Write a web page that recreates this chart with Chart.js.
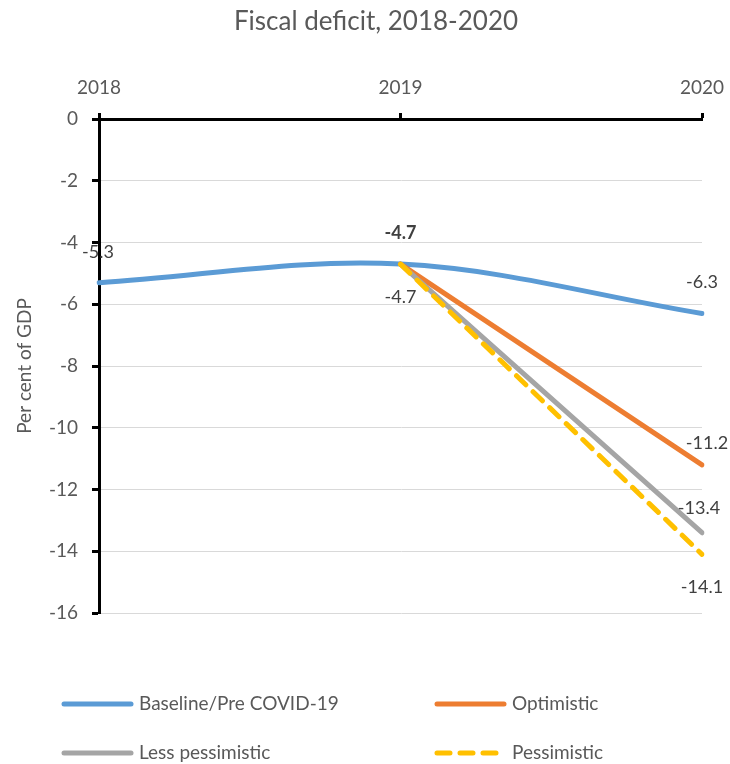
<!DOCTYPE html>
<html>
<head>
<meta charset="utf-8">
<script src="https://cdn.jsdelivr.net/npm/chart.js@4.4.1/dist/chart.umd.min.js"></script>
<style>
  html, body { margin: 0; padding: 0; background: #fff; }
  #wrap { width: 730px; height: 764px; position: relative; }
</style>
</head>
<body>
<div id="wrap"><canvas id="chart"></canvas></div>
<script>
const years = ['2018', '2019', '2020'];
const baseline = [-5.3, -4.7, -6.3];
const optimistic = [null, -4.7, -11.2];
const lessPessimistic = [null, -4.7, -13.4];
const pessimistic = [null, -4.7, -14.1];
const yTicks = [0, -2, -4, -6, -8, -10, -12, -14, -16];
const chartTitle = 'Fiscal deficit, 2018-2020';

const FONT = 'Lato, "Open Sans", sans-serif';
const TEXT = '#595959';

// value labels: [dataset, point, dx, dy, bold]
const valueLabels = [
    [0, 0, -1, -30, false],
    [0, 1, 0, -31, true],
    [0, 2, 0, -31, false],
    [2, 1, 0, 33, false],
    [1, 2, 5, -22, false],
    [2, 2, -3, -25, false],
    [3, 2, 0, 33, false]
];

const labelPlugin = {
    id: 'valueLabels',
    afterDatasetsDraw(chart) {
        const ctx = chart.ctx;
        ctx.save();
        ctx.textAlign = 'center';
        ctx.textBaseline = 'middle';
        valueLabels.forEach(([ds, i, dx, dy, bold]) => {
            const pt = chart.getDatasetMeta(ds).data[i];
            const v = chart.data.datasets[ds].data[i];
            ctx.font = (bold ? 'bold ' : '') + '18px ' + FONT;
            ctx.fillStyle = '#404040';
            ctx.fillText(v.toFixed(1), pt.x + dx, pt.y + dy);
        });
        ctx.restore();
    }
};

// title sits a little right of the canvas centre
const titlePlugin = {
    id: 'topTitle',
    afterDraw(chart) {
        const ctx = chart.ctx;
        ctx.save();
        ctx.font = '26px ' + FONT;
        ctx.fillStyle = TEXT;
        ctx.textAlign = 'center';
        ctx.textBaseline = 'middle';
        ctx.fillText(chartTitle, 376, 22);
        ctx.restore();
    }
};

// two-column legend under the plot
const legendPlugin = {
    id: 'gridLegend',
    afterDraw(chart) {
        const ctx = chart.ctx;
        const spots = [[61, 704], [434, 704], [61, 753], [434, 753]];
        ctx.save();
        chart.data.datasets.forEach((ds, k) => {
            const [x, y] = spots[k];
            ctx.beginPath();
            ctx.strokeStyle = ds.borderColor;
            ctx.lineWidth = 5;
            ctx.lineCap = 'round';
            ctx.setLineDash(ds.borderDash || []);
            ctx.moveTo(x + 3, y);
            ctx.lineTo(x + 70, y);
            ctx.stroke();
            ctx.setLineDash([]);
            ctx.font = '19px ' + FONT;
            ctx.fillStyle = TEXT;
            ctx.textAlign = 'left';
            ctx.textBaseline = 'middle';
            ctx.fillText(ds.label, x + 78, y);
        });
        ctx.restore();
    }
};

new Chart(document.getElementById('chart'), {
    type: 'line',
    data: {
        labels: years,
        datasets: [
            { label: 'Baseline/Pre COVID-19', data: baseline, borderColor: '#5B9BD5', tension: 0.35, order: 3 },
            { label: 'Optimistic', data: optimistic, borderColor: '#ED7D31', order: 2 },
            { label: 'Less pessimistic', data: lessPessimistic, borderColor: '#A5A5A5', order: 1 },
            { label: 'Pessimistic', data: pessimistic, borderColor: '#FFC000', borderDash: [13, 10], order: 0 }
        ]
    },
    options: {
        responsive: true,
        maintainAspectRatio: false,
        animation: false,
        elements: {
            line: { borderWidth: 5, fill: false, borderCapStyle: 'round', borderJoinStyle: 'round' },
            point: { radius: 0, hoverRadius: 0 }
        },
        layout: { padding: { left: 0, right: 28, top: 44, bottom: 151 } },
        plugins: {
            legend: { display: false },
            tooltip: { enabled: false },
            title: { display: false }
        },
        scales: {
            x: {
                position: 'top',
                offset: false,
                afterFit(scale) {
                    scale.height = 75;
                    scale.paddingLeft = 0;
                    scale.paddingRight = 0;
                },
                grid: { drawOnChartArea: false, drawTicks: true, tickLength: 6, tickColor: '#000', tickWidth: 3 },
                border: { color: '#000', width: 3 },
                ticks: { color: TEXT, font: { family: FONT, size: 19 }, padding: 14, maxRotation: 0 }
            },
            y: {
                min: -16,
                max: 0,
                afterFit(scale) { scale.width = 99; },
                afterBuildTicks(scale) { scale.ticks = yTicks.map(v => ({ value: v })); },
                grid: { color: '#D9D9D9', lineWidth: 1, tickLength: 7, tickColor: '#000', tickWidth: 3 },
                border: { color: '#000', width: 3 },
                ticks: { color: TEXT, font: { family: FONT, size: 19 }, padding: 14 },
                title: {
                    display: true,
                    text: 'Per cent of GDP',
                    color: TEXT,
                    font: { family: FONT, size: 19 },
                    padding: { top: 13, bottom: 0 }
                }
            }
        }
    },
    plugins: [labelPlugin, titlePlugin, legendPlugin]
});
</script>
</body>
</html>
